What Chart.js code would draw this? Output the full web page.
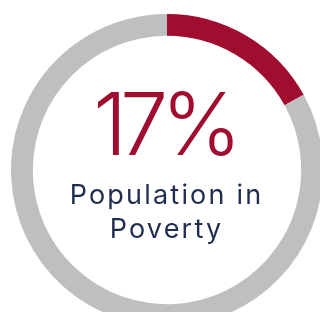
<!DOCTYPE html>
<html>
<head>
<meta charset="utf-8">
<script src="https://cdn.jsdelivr.net/npm/chart.js@4"></script>
<style>
  html, body { margin: 0; padding: 0; background: #fff; }
  body { width: 320px; height: 312px; overflow: hidden; position: relative; }
  #wrap { position: absolute; left: 11px; top: 14px; width: 312px; height: 312px; }
  .big {
    position: absolute; left: 0; width: 328px; top: 81px; text-align: center;
    font-family: Inter, sans-serif; font-weight: 350; font-size: 86px;
    color: #A00D2F; line-height: 1; letter-spacing: -7px;
  }
  .label {
    position: absolute; left: 0; width: 333px; top: 178px; text-align: center;
    font-family: Inter, sans-serif; font-size: 27px; color: #1F2D4E; line-height: 34px;
    letter-spacing: 2.2px;
  }
</style>
</head>
<body>
<div id="wrap"><canvas id="povertyChart"></canvas></div>
<div class="big">17%</div>
<div class="label">Population in<br>Poverty</div>
<script>
const labels = ["Population in Poverty", "Not in Poverty"];
const values = [17, 83];
const colors = ["#A00D2F", "#BEBFC1"];

const ctx = document.getElementById("povertyChart");

new Chart(ctx, {
    type: "doughnut",
    data: {
        labels: labels,
        datasets: [{
            data: values,
            backgroundColor: colors,
            borderWidth: 0
        }]
    },
    options: {
        responsive: true,
        maintainAspectRatio: false,
        animation: false,
        cutout: "86%",
        plugins: {
            legend: { display: false },
            tooltip: { enabled: false }
        }
    }
});
</script>
</body>
</html>
